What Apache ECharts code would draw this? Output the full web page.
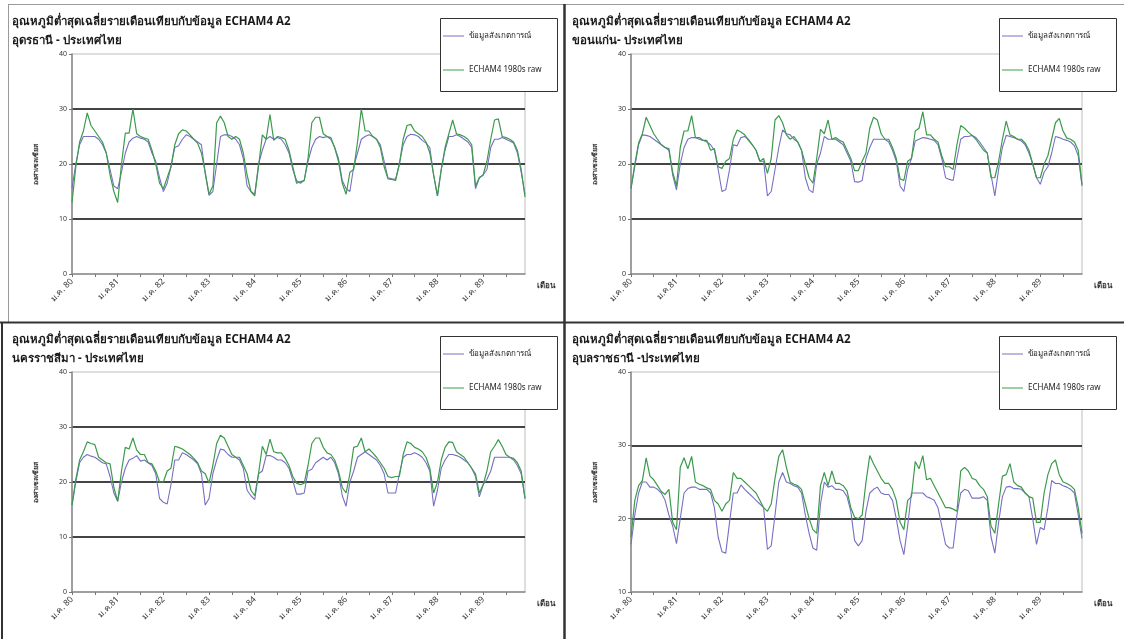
<!DOCTYPE html>
<html>
<head>
<meta charset="utf-8">
<title>อุณหภูมิต่ำสุดเฉลี่ยรายเดือน</title>
<script src="https://cdn.jsdelivr.net/npm/echarts@6/dist/echarts.min.js"></script>
<style>
  html, body { margin: 0; padding: 0; background: #fff; }
  #chart { width: 1124px; height: 639px; }
</style>
</head>
<body>
<div id="chart"></div>
<script>
// Monthly mean minimum temperature (°C), Jan 1980 – Dec 1989, observed vs ECHAM4 1980s raw
const monthNames = ['ม.ค.', 'ก.พ.', 'มี.ค.', 'เม.ย.', 'พ.ค.', 'มิ.ย.', 'ก.ค.', 'ส.ค.', 'ก.ย.', 'ต.ค.', 'พ.ย.', 'ธ.ค.'];
const yearNames = ['80', '81', '82', '83', '84', '85', '86', '87', '88', '89'];
const tickLabels = ['ม.ค. 80', 'ม.ค.81', 'ม.ค. 82', 'ม.ค. 83', 'ม.ค. 84', 'ม.ค. 85', 'ม.ค. 86', 'ม.ค. 87', 'ม.ค. 88', 'ม.ค. 89'];

const obsName = 'ข้อมูลสังเกตการณ์';
const echamName = 'ECHAM4 1980s raw';

const titleText = 'อุณหภูมิต่ำสุดเฉลี่ยรายเดือนเทียบกับข้อมูล ECHAM4 A2';
const stationNames = ['อุดรธานี - ประเทศไทย', 'ขอนแก่น- ประเทศไทย', 'นครราชสีมา - ประเทศไทย', 'อุบลราชธานี -ประเทศไทย'];

// Udon Thani
const udonObs = [
  15.6, 20.0, 23.5, 25.0, 25.0, 25.0, 25.0, 24.5, 23.5, 22.0, 19.0, 16.0,
  15.5, 18.5, 22.0, 24.0, 24.7, 25.0, 24.7, 24.5, 24.0, 22.0, 20.5, 17.5,
  15.0, 16.5, 19.5, 23.0, 23.3, 24.5, 25.3, 25.0, 24.5, 24.0, 23.5, 18.2,
  14.3, 15.0, 20.0, 25.0, 25.3, 25.3, 25.0, 24.5, 23.5, 21.0, 16.0, 15.0,
  14.5, 20.0, 22.5, 24.5, 25.0, 24.5, 24.8, 24.5, 23.5, 22.0, 19.0, 17.0,
  16.5, 17.0, 20.5, 23.0, 24.5, 25.0, 24.8, 25.0, 24.5, 23.0, 21.0, 17.0,
  15.5, 15.0, 19.5, 22.0, 24.5, 25.0, 25.3, 25.0, 24.5, 23.5, 20.5, 17.5,
  17.3, 17.2, 20.0, 23.5, 25.0, 25.4, 25.3, 25.0, 24.3, 23.8, 23.0, 18.0,
  14.2, 19.0, 22.5, 25.0, 25.0, 25.3, 25.0, 24.5, 24.0, 23.0, 15.5, 17.5,
  18.0, 19.0, 23.0, 24.5, 24.5, 24.8, 24.5, 24.2, 23.8, 22.0, 18.5, 14.5
];
const udonEcham = [
  13.0, 19.5, 24.0, 26.0, 29.3, 27.0, 26.0, 25.0, 24.0, 22.0, 18.0, 15.0,
  13.0, 20.0, 25.6, 25.6, 30.0, 25.5, 25.0, 24.7, 24.5, 22.5, 20.0, 16.5,
  15.5, 17.5, 19.5, 23.5, 25.5, 26.2, 26.0, 25.3, 24.5, 23.8, 22.0, 18.5,
  14.5, 16.0, 27.5, 28.7, 27.5, 25.0, 24.5, 25.0, 24.5, 22.0, 18.0, 15.0,
  14.2, 19.5, 25.3, 24.5, 29.0, 24.3, 25.0, 24.8, 24.5, 22.5, 19.5, 16.5,
  16.8, 17.0, 21.0, 27.5, 28.5, 28.5, 25.5, 25.0, 24.8, 23.0, 20.5, 16.5,
  14.5, 18.5, 19.0, 24.0, 30.0, 26.0, 26.0, 25.0, 24.5, 23.0, 19.5, 17.3,
  17.2, 17.0, 20.0, 24.5, 27.0, 27.2, 26.0, 25.5, 25.0, 24.0, 22.0, 18.0,
  14.2, 19.0, 23.0, 25.5, 28.0, 25.5, 25.3, 25.0, 24.5, 23.5, 16.0, 17.5,
  18.0, 20.5, 24.5, 28.0, 28.2, 25.0, 24.8, 24.5, 24.0, 22.5, 19.0, 14.0
];

// Khon Kaen
const khonKaenObs = [
  15.6, 19.5, 23.5, 25.3, 25.2, 25.0, 24.5, 24.0, 23.5, 23.0, 22.5, 18.0,
  15.3, 20.0, 23.0, 24.5, 24.8, 24.8, 24.5, 24.3, 24.0, 23.5, 22.5, 19.0,
  15.0, 15.3, 19.0, 23.5, 23.3, 24.8, 25.0, 24.5, 23.5, 22.5, 20.5, 20.5,
  14.2, 15.0, 19.0, 23.0, 26.2, 25.5, 25.3, 24.5, 24.0, 22.5, 17.5, 15.3,
  14.8, 20.0, 22.0, 25.0, 24.5, 24.5, 24.5, 24.0, 23.5, 22.0, 20.5, 16.8,
  16.7, 17.0, 21.0, 23.0, 24.5, 24.5, 24.5, 24.5, 24.0, 22.5, 20.5, 16.0,
  15.0, 19.0, 21.0, 24.2, 24.5, 24.8, 24.7, 24.5, 24.3, 23.5, 21.0, 17.5,
  17.2, 17.0, 21.0, 24.5, 25.0, 25.0, 25.2, 24.8, 24.0, 23.0, 22.0, 18.0,
  14.2, 19.0, 23.0, 25.2, 25.0, 24.8, 24.5, 24.2, 23.5, 22.0, 20.0, 17.5,
  16.3, 18.5, 19.5, 22.0, 25.0, 24.8, 24.5, 24.3, 24.0, 23.3, 21.5, 16.0
];
const khonKaenEcham = [
  15.5, 20.0, 23.8, 25.5, 28.5, 27.0, 25.5, 24.5, 23.5, 23.0, 22.8, 18.5,
  16.0, 23.0, 26.0, 26.0, 28.8, 24.8, 24.8, 24.3, 24.3, 22.5, 22.8, 19.5,
  19.2, 20.5, 21.0, 24.5, 26.2, 25.8, 25.3, 24.3, 23.5, 22.5, 20.5, 21.0,
  18.3, 21.0, 28.0, 28.8, 27.5, 25.3, 24.5, 25.0, 24.0, 22.5, 20.0, 17.5,
  16.5, 21.0, 26.3, 25.5, 28.0, 24.5, 24.8, 24.3, 24.0, 22.5, 21.0, 18.8,
  18.8, 20.5, 22.0, 26.5, 28.5, 28.0, 25.5, 24.5, 24.5, 23.0, 21.0, 17.3,
  17.0, 20.5, 21.0, 26.0, 26.5, 29.5, 25.3, 25.3, 24.5, 24.0, 21.5, 19.5,
  19.5, 19.0, 23.5, 27.0, 26.5, 25.8, 25.2, 24.5, 23.5, 22.5, 22.0, 17.5,
  17.5, 20.5, 24.5, 27.8, 25.3, 25.0, 24.5, 24.5, 23.8, 22.5, 20.0, 17.5,
  17.5, 20.0, 21.5, 24.5, 27.5, 28.3, 26.0, 24.7, 24.5, 24.0, 22.5, 16.3
];

// Nakhon Ratchasima
const nakhonObs = [
  15.8, 20.0, 23.5, 24.5, 25.0, 24.7, 24.5, 24.0, 23.5, 23.3, 21.0, 18.0,
  16.5, 20.0, 22.5, 24.0, 24.3, 24.8, 23.8, 24.0, 23.5, 23.0, 21.5, 17.0,
  16.3, 16.0, 19.5, 24.0, 24.0, 25.3, 25.0, 24.5, 24.0, 23.3, 21.5, 15.8,
  17.0, 21.5, 24.0, 26.0, 25.8, 25.0, 24.5, 24.5, 24.0, 22.5, 18.5, 17.5,
  16.8, 21.5, 22.0, 24.8, 24.8, 24.5, 24.0, 24.0, 23.5, 22.5, 20.3, 17.8,
  17.8, 18.0, 22.0, 22.3, 23.5, 24.0, 24.5, 24.0, 24.5, 23.5, 21.5, 17.5,
  15.6, 20.0, 22.0, 24.5, 25.0, 25.5, 25.0, 24.5, 24.0, 23.0, 21.5, 18.0,
  18.0, 18.0, 21.5, 24.5, 25.0, 25.0, 25.3, 25.0, 24.5, 23.5, 22.0, 15.6,
  18.5, 22.5, 24.0, 25.0, 25.0, 24.8, 24.5, 24.0, 23.5, 22.5, 21.0, 17.3,
  19.5, 20.5, 22.0, 24.5, 24.5, 24.5, 24.5, 24.5, 24.0, 23.0, 21.5, 17.0
];
const nakhonEcham = [
  15.8, 20.5, 24.0, 25.5, 27.3, 27.0, 26.8, 24.5, 24.0, 23.5, 23.3, 19.0,
  16.5, 22.0, 26.3, 26.0, 28.0, 25.8, 25.0, 25.0, 23.5, 23.3, 22.0, 20.0,
  20.0, 22.0, 22.5, 26.5, 26.3, 26.0, 25.5, 25.0, 24.3, 23.5, 22.0, 21.5,
  19.8, 23.0, 27.0, 28.5, 28.0, 26.5, 25.0, 24.5, 24.5, 23.0, 21.5, 18.5,
  17.5, 21.5, 26.5, 25.0, 27.8, 25.5, 25.3, 25.3, 24.3, 23.0, 21.0, 19.8,
  19.5, 19.8, 23.0, 27.0, 28.0, 28.0, 26.3, 25.3, 25.0, 24.0, 22.0, 19.0,
  18.0, 21.5, 26.3, 26.5, 28.0, 25.5, 26.0, 25.3, 24.5, 23.5, 22.5, 21.0,
  20.8, 21.0, 21.0, 25.0, 27.3, 27.0, 26.3, 26.0, 25.5, 24.5, 22.5, 18.0,
  20.0, 24.0, 26.3, 27.3, 27.2, 25.5, 25.0, 24.5, 23.5, 22.5, 21.5, 18.0,
  19.5, 22.0, 25.5, 26.5, 27.7, 26.5, 25.0, 24.5, 24.3, 23.5, 22.0, 17.0
];

// Ubon Ratchathani
const ubonObs = [
  16.5, 20.5, 23.5, 25.0, 25.0, 24.3, 24.3, 24.0, 23.5, 22.5, 20.5, 19.0,
  16.6, 20.0, 23.5, 24.1, 24.3, 24.3, 24.0, 24.0, 24.0, 23.5, 21.5, 17.5,
  15.5, 15.3, 19.5, 23.5, 23.5, 24.6, 24.0, 23.5, 23.0, 22.5, 22.0, 21.5,
  15.8, 16.3, 20.5, 25.0, 26.3, 25.0, 24.8, 24.5, 24.3, 23.5, 20.5, 18.0,
  16.0, 15.7, 22.0, 25.0, 24.3, 24.5, 24.0, 24.0, 23.8, 23.0, 21.0, 17.0,
  16.3, 17.0, 21.0, 23.5, 24.0, 24.3, 23.5, 23.3, 23.3, 22.5, 20.0, 17.0,
  15.1, 19.0, 23.5, 23.5, 23.5, 23.5, 23.0, 22.8, 22.5, 21.5, 19.0, 16.5,
  16.0, 16.0, 20.5, 23.5, 24.0, 23.8, 22.8, 22.8, 22.8, 23.0, 22.5, 17.5,
  15.3, 19.5, 23.0, 24.3, 24.4, 24.1, 24.1, 24.0, 23.5, 23.0, 20.0, 16.5,
  18.8, 18.5, 21.5, 25.2, 24.8, 24.8, 24.5, 24.3, 24.0, 23.5, 20.5, 17.3
];
const ubonEcham = [
  17.5, 22.5, 24.5, 25.2, 28.3, 25.8, 25.3, 24.5, 23.7, 23.3, 24.0, 19.5,
  18.5, 27.0, 28.3, 26.8, 28.5, 25.0, 24.7, 24.5, 24.2, 24.0, 22.5, 22.0,
  21.0, 22.0, 22.5, 26.3, 25.5, 25.5, 25.0, 24.5, 24.0, 23.5, 22.5, 21.5,
  21.0, 22.0, 25.5, 28.5, 29.4, 27.0, 25.0, 24.7, 24.5, 24.0, 22.0, 20.0,
  18.5, 18.0, 24.5, 26.3, 24.5, 26.5, 24.8, 24.8, 24.5, 23.8, 21.5, 20.2,
  20.0, 20.5, 25.0, 28.6, 27.5, 26.5, 25.5, 24.8, 24.8, 24.0, 22.5, 19.5,
  18.5, 22.5, 23.0, 27.8, 26.8, 28.6, 25.3, 25.5, 24.5, 23.5, 22.5, 21.5,
  21.5, 21.3, 21.0, 26.5, 27.0, 26.5, 25.5, 25.3, 24.5, 24.0, 23.0, 19.0,
  18.0, 22.0, 25.8, 26.0, 27.5, 25.0, 24.5, 24.3, 23.5, 23.0, 22.8, 19.5,
  19.5, 23.5, 26.0, 27.5, 28.0, 26.0, 25.0, 24.8, 24.5, 24.0, 21.5, 18.0
];

const obsSeries = [udonObs, khonKaenObs, nakhonObs, ubonObs];
const echamSeries = [udonEcham, khonKaenEcham, nakhonEcham, ubonEcham];
const yMins = [0, 0, 0, 10];

const categories = [];
yearNames.forEach(y => monthNames.forEach(m => categories.push(m + ' ' + y)));

// Panel layout: plot box (gx, gy, gw, gh), title origin, legend box
const layout = [
  { gx: 72,  gy: 54,  gw: 453, gh: 220, tx: 12,  ty: 12,  lx: 440,  ly: 18 },
  { gx: 631, gy: 54,  gw: 451, gh: 220, tx: 572, ty: 12,  lx: 999,  ly: 18 },
  { gx: 72,  gy: 372, gw: 453, gh: 220, tx: 12,  ty: 330, lx: 440,  ly: 336 },
  { gx: 631, gy: 372, gw: 451, gh: 220, tx: 572, ty: 330, lx: 999,  ly: 336 }
];

const obsColor = '#7670c2';
const echamColor = '#3d9a4c';
const fontFamily = 'Tahoma, "Noto Sans", "DejaVu Sans", sans-serif';

const grid = [], xAxis = [], yAxis = [], series = [], title = [], legend = [];
const graphic = [];

layout.forEach((p, i) => {
  grid.push({
    left: p.gx, top: p.gy, width: p.gw, height: p.gh,
    show: true, borderColor: '#bdbdbd', borderWidth: 1, backgroundColor: 'transparent'
  });
  xAxis.push({
    type: 'category', gridIndex: i, data: categories, boundaryGap: false,
    axisLine: { lineStyle: { color: '#8a8a8a', width: 1.5 } },
    axisTick: { interval: 5, length: 3, lineStyle: { color: '#777' } },
    axisLabel: {
      interval: 11, rotate: 45, fontSize: 8.5, color: '#333', margin: 6, fontFamily,
      formatter: (v, idx) => tickLabels[Math.floor(idx / 12)]
    },
    splitLine: { show: false },
    name: 'เดือน', nameLocation: 'end', nameGap: 12,
    nameTextStyle: { fontSize: 8, fontWeight: 'bold', color: '#333', verticalAlign: 'top', padding: [8, 0, 0, 0], fontFamily }
  });
  const nLines = (40 - yMins[i]) / 10 + 1;
  const splitColors = [];
  for (let k = 0; k < nLines; k++) splitColors.push(k === 0 || k === nLines - 1 ? 'transparent' : '#444');
  yAxis.push({
    type: 'value', gridIndex: i, min: yMins[i], max: 40, interval: 10,
    axisLine: { show: true, lineStyle: { color: '#8a8a8a', width: 1.5 } },
    axisTick: { show: true, length: 3, lineStyle: { color: '#777' } },
    axisLabel: { fontSize: 7, color: '#333', margin: 5, fontFamily },
    splitLine: { show: true, lineStyle: { color: splitColors, width: 1.8 } },
    name: 'องศาเซลเซียส', nameLocation: 'middle', nameGap: 33, nameRotate: 90,
    nameTextStyle: { fontSize: 7, fontWeight: 'bold', color: '#333', fontFamily }
  });
  series.push({
    name: obsName, type: 'line', xAxisIndex: i, yAxisIndex: i, data: obsSeries[i],
    symbol: 'none', lineStyle: { color: obsColor, width: 1.1 }, itemStyle: { color: obsColor }, z: 2
  });
  series.push({
    name: echamName, type: 'line', xAxisIndex: i, yAxisIndex: i, data: echamSeries[i],
    symbol: 'none', lineStyle: { color: echamColor, width: 1.2 }, itemStyle: { color: echamColor }, z: 3
  });
  title.push({
    text: titleText + '\n' + stationNames[i], left: p.tx, top: p.ty, padding: 0,
    textStyle: { fontSize: 11.5, fontWeight: 'bold', color: '#1a1a1a', lineHeight: 19, fontFamily }
  });
  legend.push({
    data: [obsName, echamName], orient: 'vertical', left: p.lx + 3, top: p.ly + 14,
    icon: 'rect', itemWidth: 21, itemHeight: 1, itemGap: 26, padding: 0, selectedMode: false,
    textStyle: { fontSize: 8, color: '#222', fontFamily }, z: 20
  });
  graphic.push({
    type: 'rect', shape: { x: p.lx + 0.5, y: p.ly + 0.5, width: 117, height: 73 },
    style: { fill: '#fff', stroke: '#333', lineWidth: 1 }, z: 15
  });
});

// Panel frames and dividers
graphic.push(
  { type: 'line', shape: { x1: 8, y1: 4.5, x2: 1124, y2: 4.5 }, style: { stroke: '#9a9a9a', lineWidth: 1 }, z: 1 },
  { type: 'line', shape: { x1: 8.5, y1: 4, x2: 8.5, y2: 322 }, style: { stroke: '#9a9a9a', lineWidth: 1 }, z: 1 },
  { type: 'line', shape: { x1: 2, y1: 322, x2: 2, y2: 639 }, style: { stroke: '#333', lineWidth: 2 }, z: 1 },
  { type: 'line', shape: { x1: 564.5, y1: 4, x2: 564.5, y2: 639 }, style: { stroke: '#333', lineWidth: 2.5 }, z: 1 },
  { type: 'line', shape: { x1: 0, y1: 322.5, x2: 1124, y2: 322.5 }, style: { stroke: '#333', lineWidth: 2 }, z: 1 }
);

const chart = echarts.init(document.getElementById('chart'), null, { renderer: 'canvas' });
chart.setOption({
  animation: false,
  backgroundColor: '#fff',
  textStyle: { fontFamily },
  title, legend, grid, xAxis, yAxis, series, graphic
});
</script>
</body>
</html>
